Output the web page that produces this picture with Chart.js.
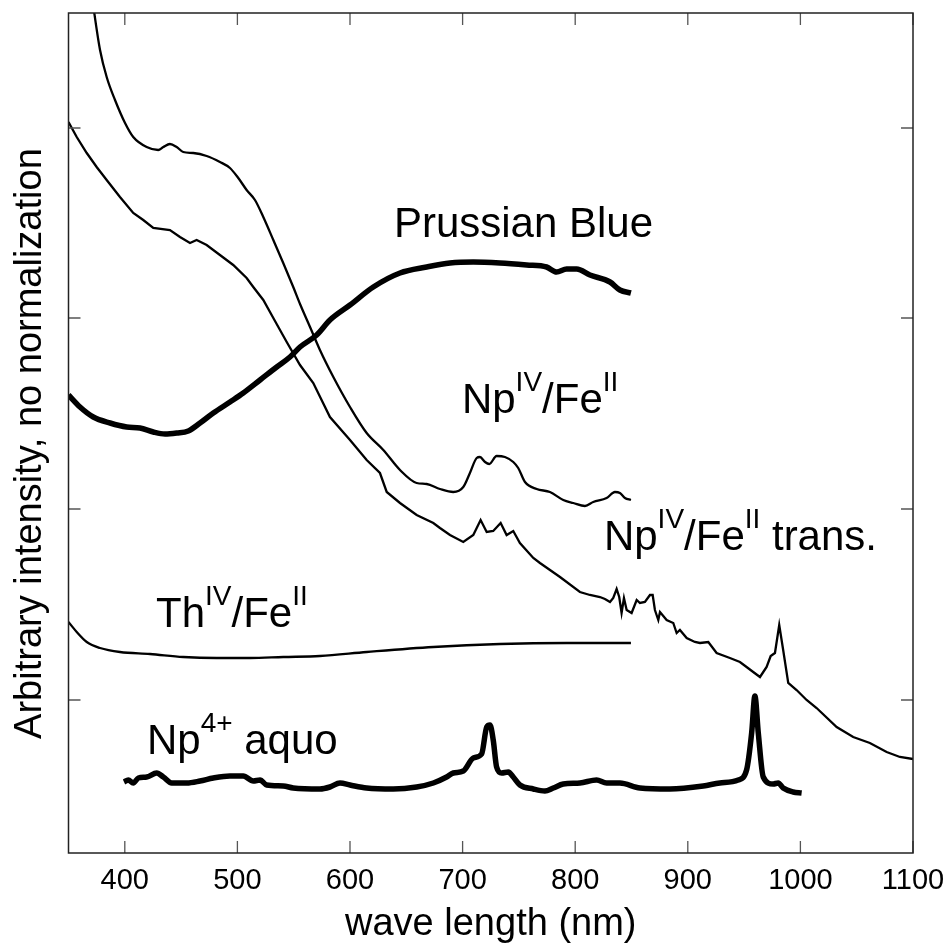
<!DOCTYPE html>
<html><head><meta charset="utf-8">
<script src="https://cdn.jsdelivr.net/npm/chart.js@4.4.1/dist/chart.umd.min.js"></script>
<style>html,body{margin:0;padding:0;background:#fff}canvas{display:block}</style>
</head><body>
<canvas id="c" width="948" height="946"></canvas>
<script>
// ---- tick values ----
const xTicks = [400, 500, 600, 700, 800, 900, 1000, 1100];
const yTicks = [15.3, 34.4, 53.5, 72.5];

// ---- Np(IV)/Fe(II) ----
const npfeX = [370.2, 372.9, 378.0, 383.9, 391.3, 400.2, 407.5, 419.4, 429.7, 434.2, 440.1, 446.1, 451.9, 460.8, 472.7, 484.5, 493.4, 500.8, 508.2, 515.6, 523.0, 531.9, 540.7, 549.6, 556.0, 564.5, 573.3, 585.2, 600.0, 614.8, 629.6, 644.4, 659.2, 668.1, 679.9, 691.7, 700.6, 706.5, 712.5, 715.4, 719.9, 723.7, 730.2, 737.6, 745.0, 749.4, 755.4, 765.8, 777.6, 789.4, 798.3, 808.7, 816.0, 827.9, 835.3, 839.7, 844.2, 849.5];
const npfeY = [86.3, 84.0, 80.3, 77.6, 75.3, 73.0, 71.6, 70.6, 70.3, 70.6, 70.9, 70.6, 70.1, 70.0, 69.7, 69.1, 68.5, 67.5, 66.3, 65.3, 63.6, 61.3, 59.0, 56.6, 54.8, 52.6, 50.3, 47.6, 44.6, 42.0, 40.3, 38.3, 37.0, 36.9, 36.4, 36.1, 36.6, 38.0, 39.5, 39.6, 39.1, 38.9, 39.7, 39.6, 39.1, 38.5, 37.1, 36.4, 36.1, 35.3, 35.0, 34.7, 35.1, 35.5, 36.1, 36.0, 35.5, 35.3];

// ---- Np(IV)/Fe(II) trans. ----
const transX = [350.0, 357.3, 366.2, 375.0, 383.9, 395.7, 407.5, 416.4, 425.3, 440.1, 449.0, 457.9, 463.8, 472.7, 484.5, 496.3, 508.2, 514.1, 523.0, 531.9, 543.8, 555.6, 567.4, 582.2, 600.0, 614.8, 626.6, 632.6, 644.4, 659.2, 674.0, 679.9, 688.8, 700.6, 709.5, 716.0, 721.4, 727.2, 733.8, 739.1, 745.0, 750.9, 762.8, 768.7, 786.5, 804.2, 813.1, 822.0, 826.4, 830.9, 833.8, 836.8, 839.1, 841.2, 843.3, 845.7, 850.1, 854.6, 857.5, 861.9, 866.4, 868.8, 870.8, 873.8, 875.3, 881.2, 887.1, 890.1, 893.0, 899.0, 906.3, 910.8, 918.2, 925.6, 937.4, 946.3, 952.2, 958.1, 964.1, 970.0, 973.6, 977.4, 981.2, 984.7, 989.2, 996.6, 1005.5, 1014.4, 1032.2, 1046.9, 1061.7, 1076.6, 1088.4, 1100.0];
const transY = [73.1, 71.6, 70.0, 68.6, 67.3, 65.6, 64.0, 63.3, 62.5, 62.3, 61.6, 61.0, 61.3, 60.8, 59.8, 58.8, 57.5, 56.6, 55.3, 53.5, 51.1, 48.8, 47.0, 43.6, 41.3, 39.3, 38.0, 36.1, 35.0, 33.8, 33.0, 32.5, 31.8, 31.1, 31.8, 33.3, 32.1, 32.2, 33.0, 31.8, 32.2, 31.0, 29.5, 29.0, 27.6, 26.1, 25.8, 25.6, 25.4, 25.1, 25.5, 26.4, 25.6, 24.0, 25.5, 24.3, 24.0, 25.3, 25.0, 25.1, 25.8, 25.8, 24.3, 23.3, 24.1, 23.3, 23.0, 22.0, 22.3, 21.5, 21.1, 21.0, 21.1, 20.0, 19.5, 19.1, 18.6, 18.1, 17.6, 18.6, 19.7, 20.0, 22.8, 20.3, 17.0, 16.3, 15.3, 14.5, 12.6, 11.6, 11.0, 10.1, 9.6, 9.4];

// ---- Prussian Blue ----
const pbX = [350.0, 360.2, 372.0, 386.9, 401.7, 413.5, 425.3, 435.7, 446.1, 456.4, 466.8, 478.6, 493.4, 505.2, 520.1, 534.9, 546.7, 555.6, 570.4, 582.2, 600.0, 620.7, 644.4, 668.1, 688.8, 709.5, 733.2, 756.9, 774.6, 783.5, 792.4, 801.3, 813.1, 830.9, 839.7, 849.5];
const pbY = [45.8, 44.6, 43.6, 43.0, 42.6, 42.5, 42.1, 41.9, 42.0, 42.2, 43.0, 44.0, 45.1, 46.0, 47.3, 48.6, 49.6, 50.6, 51.8, 53.3, 54.8, 56.6, 58.0, 58.6, 59.0, 59.1, 59.0, 58.8, 58.6, 58.1, 58.4, 58.4, 57.8, 57.1, 56.3, 56.0];

// ---- Th(IV)/Fe(II) ----
const thX = [350.0, 357.3, 366.2, 378.0, 395.7, 422.4, 451.9, 481.6, 511.2, 540.7, 573.3, 614.8, 674.0, 733.2, 792.4, 839.7, 849.5];
const thY = [23.1, 22.1, 21.1, 20.5, 20.1, 19.9, 19.6, 19.5, 19.5, 19.6, 19.7, 20.1, 20.6, 20.9, 21.0, 21.0, 21.0];

// ---- Np4+ aquo ----
const aquoX = [399.3, 403.1, 407.5, 412.0, 419.4, 428.3, 434.2, 441.6, 455.0, 466.8, 478.6, 493.4, 505.2, 514.1, 520.1, 526.0, 540.7, 549.6, 573.3, 582.2, 591.1, 600.0, 614.8, 638.4, 659.2, 674.0, 685.8, 691.7, 700.6, 709.5, 716.9, 721.4, 724.3, 727.2, 730.2, 734.7, 740.6, 745.0, 750.9, 762.8, 773.1, 780.5, 789.4, 804.2, 819.0, 827.9, 839.7, 857.5, 884.1, 913.7, 928.5, 944.8, 952.2, 956.7, 959.6, 962.6, 967.0, 975.9, 980.3, 984.7, 993.6, 1001.1];
const aquoY = [7.1, 7.3, 7.0, 7.5, 7.6, 8.0, 7.6, 7.0, 7.0, 7.2, 7.5, 7.7, 7.7, 7.2, 7.3, 6.8, 6.7, 6.5, 6.4, 6.6, 7.0, 6.8, 6.5, 6.4, 6.6, 7.0, 7.6, 8.0, 8.2, 9.5, 9.9, 12.6, 12.8, 11.3, 8.6, 8.0, 8.1, 7.6, 6.8, 6.4, 6.2, 6.5, 6.9, 7.0, 7.3, 7.0, 7.0, 6.5, 6.4, 6.7, 7.0, 7.3, 8.3, 12.0, 15.7, 12.0, 7.6, 6.9, 7.0, 6.5, 6.1, 6.0];

const FONT = '"Liberation Sans", Arial, Helvetica, sans-serif';
const zip = (xs, ys) => xs.map((x, i) => ({x, y: ys[i]}));

// label anchors (data coordinates: nm, intensity)
const labels = [
  {x: 639.0, y: 61.6, parts: [{t: 'Prussian Blue'}]},
  {x: 699.4, y: 44.0, parts: [{t: 'Np'}, {t: 'IV', sup: true}, {t: '/Fe'}, {t: 'II', sup: true}]},
  {x: 825.5, y: 30.3, parts: [{t: 'Np'}, {t: 'IV', sup: true}, {t: '/Fe'}, {t: 'II', sup: true}, {t: ' trans.'}]},
  {x: 427.7, y: 22.6, parts: [{t: 'Th'}, {t: 'IV', sup: true}, {t: '/Fe'}, {t: 'II', sup: true}]},
  {x: 419.7, y: 9.9, parts: [{t: 'Np'}, {t: '4+', sup: true}, {t: ' aquo'}]}
];

const framePlugin = {
  id: 'frame',
  afterDatasetsDraw(chart) {
    const {ctx, chartArea: a, scales: {x, y}} = chart;
    ctx.save();
    ctx.strokeStyle = '#555';
    ctx.lineWidth = 1.3;
    ctx.beginPath();
    const L = 12;
    xTicks.forEach(v => {
      const px = x.getPixelForValue(v);
      ctx.moveTo(px, a.bottom); ctx.lineTo(px, a.bottom - L);
      ctx.moveTo(px, a.top); ctx.lineTo(px, a.top + L);
    });
    yTicks.forEach(v => {
      const py = y.getPixelForValue(v);
      ctx.moveTo(a.left, py); ctx.lineTo(a.left + L, py);
      ctx.moveTo(a.right, py); ctx.lineTo(a.right - L, py);
    });
    ctx.stroke();
    ctx.strokeStyle = '#222';
    ctx.lineWidth = 1.5;
    ctx.strokeRect(a.left, a.top, a.right - a.left, a.bottom - a.top);
    ctx.fillStyle = '#000';
    ctx.textBaseline = 'alphabetic';
    ctx.textAlign = 'left';
    labels.forEach(l => {
      let cx = x.getPixelForValue(l.x);
      const by = y.getPixelForValue(l.y);
      l.parts.forEach(p => {
        ctx.font = (p.sup ? '28px ' : '42px ') + FONT;
        ctx.fillText(p.t, cx, p.sup ? by - 22 : by);
        cx += ctx.measureText(p.t).width;
      });
    });
    ctx.restore();
  }
};

const thin = {borderColor: '#000', borderWidth: 2.3, pointRadius: 0, fill: false};
const thick = {borderColor: '#000', borderWidth: 5.5, pointRadius: 0, fill: false};

new Chart(document.getElementById('c'), {
  type: 'line',
  data: {
    datasets: [
      {label: 'Np(IV)/Fe(II)', data: zip(npfeX, npfeY), ...thin, cubicInterpolationMode: 'monotone'},
      {label: 'Np(IV)/Fe(II) trans.', data: zip(transX, transY), ...thin, tension: 0},
      {label: 'Prussian Blue', data: zip(pbX, pbY), ...thick, cubicInterpolationMode: 'monotone'},
      {label: 'Th(IV)/Fe(II)', data: zip(thX, thY), ...thin, cubicInterpolationMode: 'monotone'},
      {label: 'Np4+ aquo', data: zip(aquoX, aquoY), ...thick, borderJoinStyle: 'round', cubicInterpolationMode: 'monotone'}
    ]
  },
  options: {
    responsive: false,
    animation: false,
    events: [],
    layout: {padding: {left: 0, right: 35, top: 13, bottom: 0}},
    plugins: {legend: {display: false}, tooltip: {enabled: false}},
    scales: {
      x: {
        type: 'linear', min: 350, max: 1100,
        afterBuildTicks: s => { s.ticks = xTicks.map(v => ({value: v})); },
        afterFit: s => { s.height = 93; s.paddingLeft = 0; s.paddingRight = 0; },
        grid: {display: false, drawTicks: false},
        border: {display: false},
        ticks: {color: '#000', font: {size: 29, family: FONT}, padding: 11, maxRotation: 0, autoSkip: false, callback: v => String(v)},
        title: {display: true, text: 'wave length (nm)', color: '#000', font: {size: 38, family: FONT, lineHeight: 1}, padding: {top: 0, bottom: 2}}
      },
      y: {
        type: 'linear', min: 0, max: 84,
        afterBuildTicks: s => { s.ticks = yTicks.map(v => ({value: v})); },
        afterFit: s => { s.width = 68.5; s.paddingTop = 0; s.paddingBottom = 0; },
        grid: {display: false, drawTicks: false},
        border: {display: false},
        ticks: {display: false},
        title: {display: true, text: 'Arbitrary intensity, no normalization  ', color: '#000', font: {size: 38, family: FONT, lineHeight: 1}, padding: {top: 12, bottom: 0}}
      }
    }
  },
  plugins: [framePlugin]
});
</script>
</body></html>
